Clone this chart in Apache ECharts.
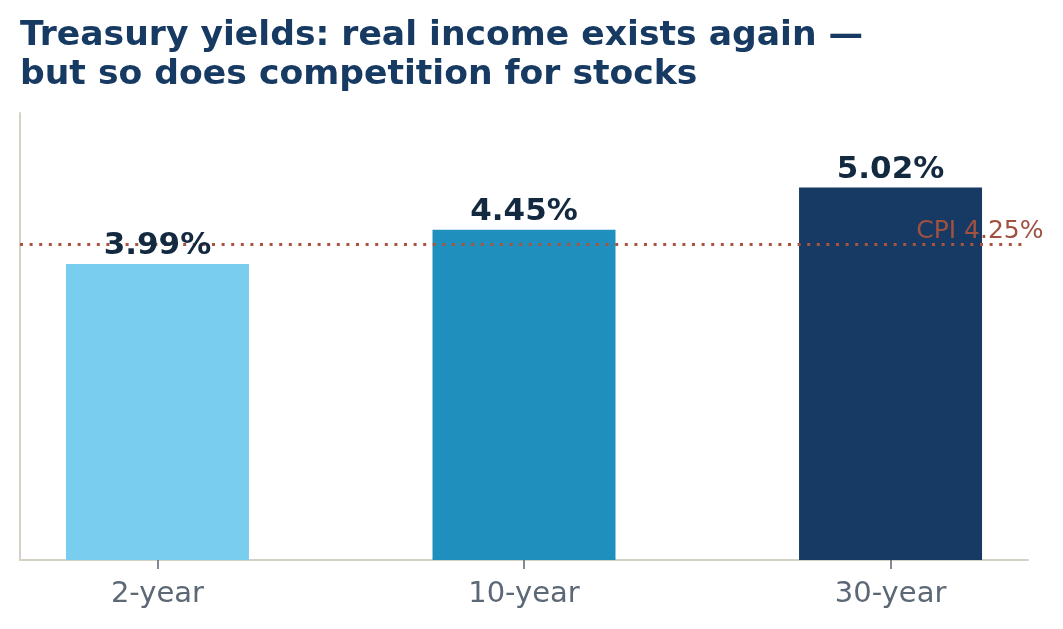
<!DOCTYPE html>
<html>
<head>
<meta charset="utf-8">
<script src="https://cdn.jsdelivr.net/npm/echarts@6/dist/echarts.min.js"></script>
<style>
  html, body { margin: 0; padding: 0; background: #fff; }
  #yieldChart { width: 1063px; height: 629px; }
</style>
</head>
<body>
<div id="yieldChart"></div>
<script>
// data
const categories = ['2-year', '10-year', '30-year'];
const yields = [3.99, 4.45, 5.02];
const barColors = ['#79CEF0', '#1F8FBD', '#163A63'];
const cpiValue = 4.25;
const cpiLabel = 'CPI 4.25%';

const font = 'DejaVu Sans';

const chart = echarts.init(document.getElementById('yieldChart'));

const option = {
  backgroundColor: '#ffffff',
  animation: false,
  title: {
    text: 'Treasury yields: real income exists again —\nbut so does competition for stocks',
    left: 20,
    top: 17,
    padding: 0,
    textStyle: {
      fontFamily: font,
      fontWeight: 'bold',
      fontSize: 34.6,
      lineHeight: 39,
      color: '#173A63'
    }
  },
  grid: { left: 20, right: 35, top: 113, bottom: 69 },
  xAxis: {
    type: 'value',
    min: -0.375,
    max: 2.375,
    splitLine: { show: false },
    axisLine: { show: true, onZero: false, lineStyle: { color: '#D6D1C5', width: 2 } },
    axisTick: {
      show: true,
      customValues: [0, 1, 2],
      length: 9,
      lineStyle: { color: '#5A6673', width: 1.5 }
    },
    axisLabel: {
      customValues: [0, 1, 2],
      formatter: v => categories[Math.round(v)],
      fontFamily: font,
      fontSize: 29,
      color: '#5C6875',
      margin: 20
    }
  },
  yAxis: {
    type: 'value',
    min: 0,
    max: yields[2] * 1.2,
    splitLine: { show: false },
    axisLabel: { show: false },
    axisTick: { show: false },
    axisLine: { show: true, onZero: false, lineStyle: { color: '#D6D1C5', width: 2 } }
  },
  series: [
    {
      type: 'bar',
      barWidth: 183,
      z: 2,
      data: yields.map((v, i) => ({ value: [i, v], itemStyle: { color: barColors[i] } })),
      markLine: {
        silent: true,
        symbol: 'none',
        z: 5,
        lineStyle: { color: '#A8543F', width: 3, type: [3, 6.6], cap: 'butt' },
        label: { show: false },
        data: [{ yAxis: cpiValue }]
      },
      markPoint: {
        silent: true,
        symbol: 'circle',
        symbolSize: 0,
        z: 6,
        label: {
          show: true,
          position: 'right',
          distance: 0,
          offset: [0, -13],
          formatter: cpiLabel,
          fontFamily: font,
          fontSize: 25,
          color: '#A0513F'
        },
        data: [{ coord: [2.07, cpiValue] }]
      }
    },
    {
      // value labels drawn over the CPI line
      type: 'scatter',
      symbolSize: 0,
      z: 10,
      silent: true,
      itemStyle: { opacity: 1 },
      data: yields.map((v, i) => [i, v]),
      label: {
        show: true,
        position: 'top',
        distance: 2,
        formatter: p => p.value[1].toFixed(2) + '%',
        fontFamily: font,
        fontWeight: 'bold',
        fontSize: 31,
        color: '#13293F'
      }
    }
  ]
};

chart.setOption(option);
window.addEventListener('resize', () => chart.resize());
</script>
</body>
</html>
